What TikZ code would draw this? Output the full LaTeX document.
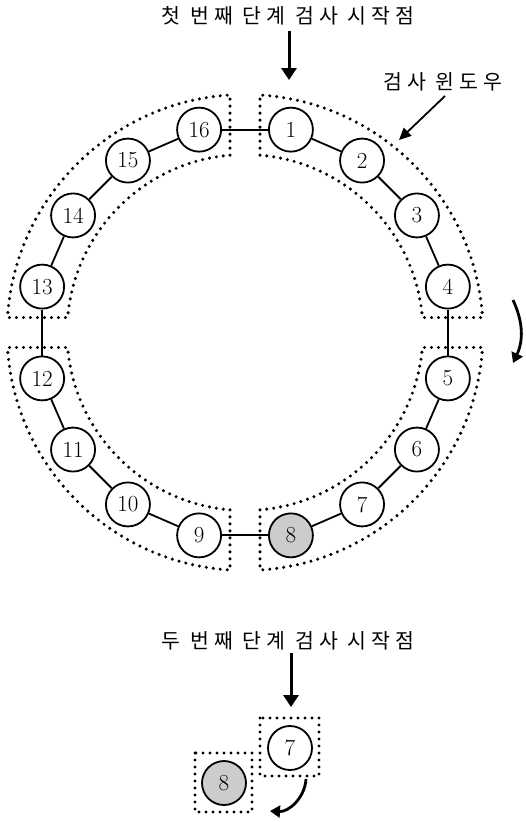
\documentclass[tikz,border=0pt]{standalone}
\usepackage{fontspec}
\newfontfamily\krfont[LetterSpace=25]{Noto Sans CJK KR}
\usetikzlibrary{arrows.meta}
\begin{document}
\begin{tikzpicture}[x=1pt,y=1pt,
  ring/.style={circle,draw,line width=1.8pt,minimum size=44pt,inner sep=0pt,fill=white,
    font=\fontsize{23}{23}\selectfont},
  win/.style={line width=3.4pt,dash pattern=on 0pt off 7pt,line cap=round},
  link/.style={line width=1.8pt},
  lbl/.style={font=\krfont\fontsize{20.5}{20.5}\selectfont,inner sep=0pt},
  bigarrow/.style={line width=3pt,-{Triangle[width=15pt,length=12pt]}},
  thinarrow/.style={line width=1.8pt,-{Triangle[width=11pt,length=12pt]}},
  curvarrow/.style={line width=2.8pt,-{Triangle[width=12pt,length=10pt]}}]
\useasboundingbox (0,-822) rectangle (525,0);
\coordinate (c) at (245,-332.5);

% windows (four quadrants)
\foreach \sx/\sy in {1/1,-1/1,1/-1,-1/-1}{
  \begin{scope}[shift={(c)},xscale=\sx,yscale=\sy]
    \draw[win] (85.17:178) -- (86.39:238) arc[start angle=86.39,end angle=3.61,radius=238]
      -- (4.83:178) arc[start angle=4.83,end angle=85.17,radius=178] -- cycle;
  \end{scope}
}

% ring nodes
\foreach \i/\a in {1/77.25,2/55.75,3/34.25,4/12.75,5/-12.75,6/-34.25,7/-55.75,
  9/-102.75,10/-124.25,11/-145.75,12/-167.25,13/167.25,14/145.75,15/124.25,16/102.75}{
  \node[ring] (n\i) at ([shift={(\a:208)}]c) {\i};
}
\node[ring,fill=gray!40] (n8) at ([shift={(-77.25:208)}]c) {8};

% links
\foreach \i/\j in {1/2,2/3,3/4,4/5,5/6,6/7,7/8,8/9,9/10,10/11,11/12,12/13,13/14,14/15,15/16,16/1}{
  \draw[link] (n\i) -- (n\j);
}

% labels and arrows (top)
\node[lbl] (t1) at (288,-16) {첫 번째 단계 검사 시작점};
\coordinate (a1s) at (289,-31);
\coordinate (a1e) at (289,-80);
\draw[bigarrow] (a1s) -- (a1e);

\node[lbl] (t2) at (443,-82) {검사 윈도우};
\coordinate (a2s) at (445,-96);
\coordinate (a2e) at (399,-140);
\draw[thinarrow] (a2s) -- (a2e);

\coordinate (a3s) at (513,-300);
\coordinate (a3e) at (513,-363);
\draw[curvarrow] (a3s) to[bend left=25] (a3e);

% bottom part
\node[lbl] (t3) at (288,-641) {두 번째 단계 검사 시작점};
\coordinate (a4s) at (291,-653);
\coordinate (a4e) at (291,-707);
\draw[bigarrow] (a4s) -- (a4e);

\node[ring] (b7) at (290,-748) {7};
\node[ring,fill=gray!40] (b8) at (224,-783) {8};
\draw[win] (260,-718) rectangle (319,-776);
\draw[win] (195,-753) rectangle (252,-812);

\coordinate (a5s) at (306,-779);
\coordinate (a5e) at (270,-811);
\draw[curvarrow] (a5s) to[bend left=45] (a5e);
\end{tikzpicture}
\end{document}
